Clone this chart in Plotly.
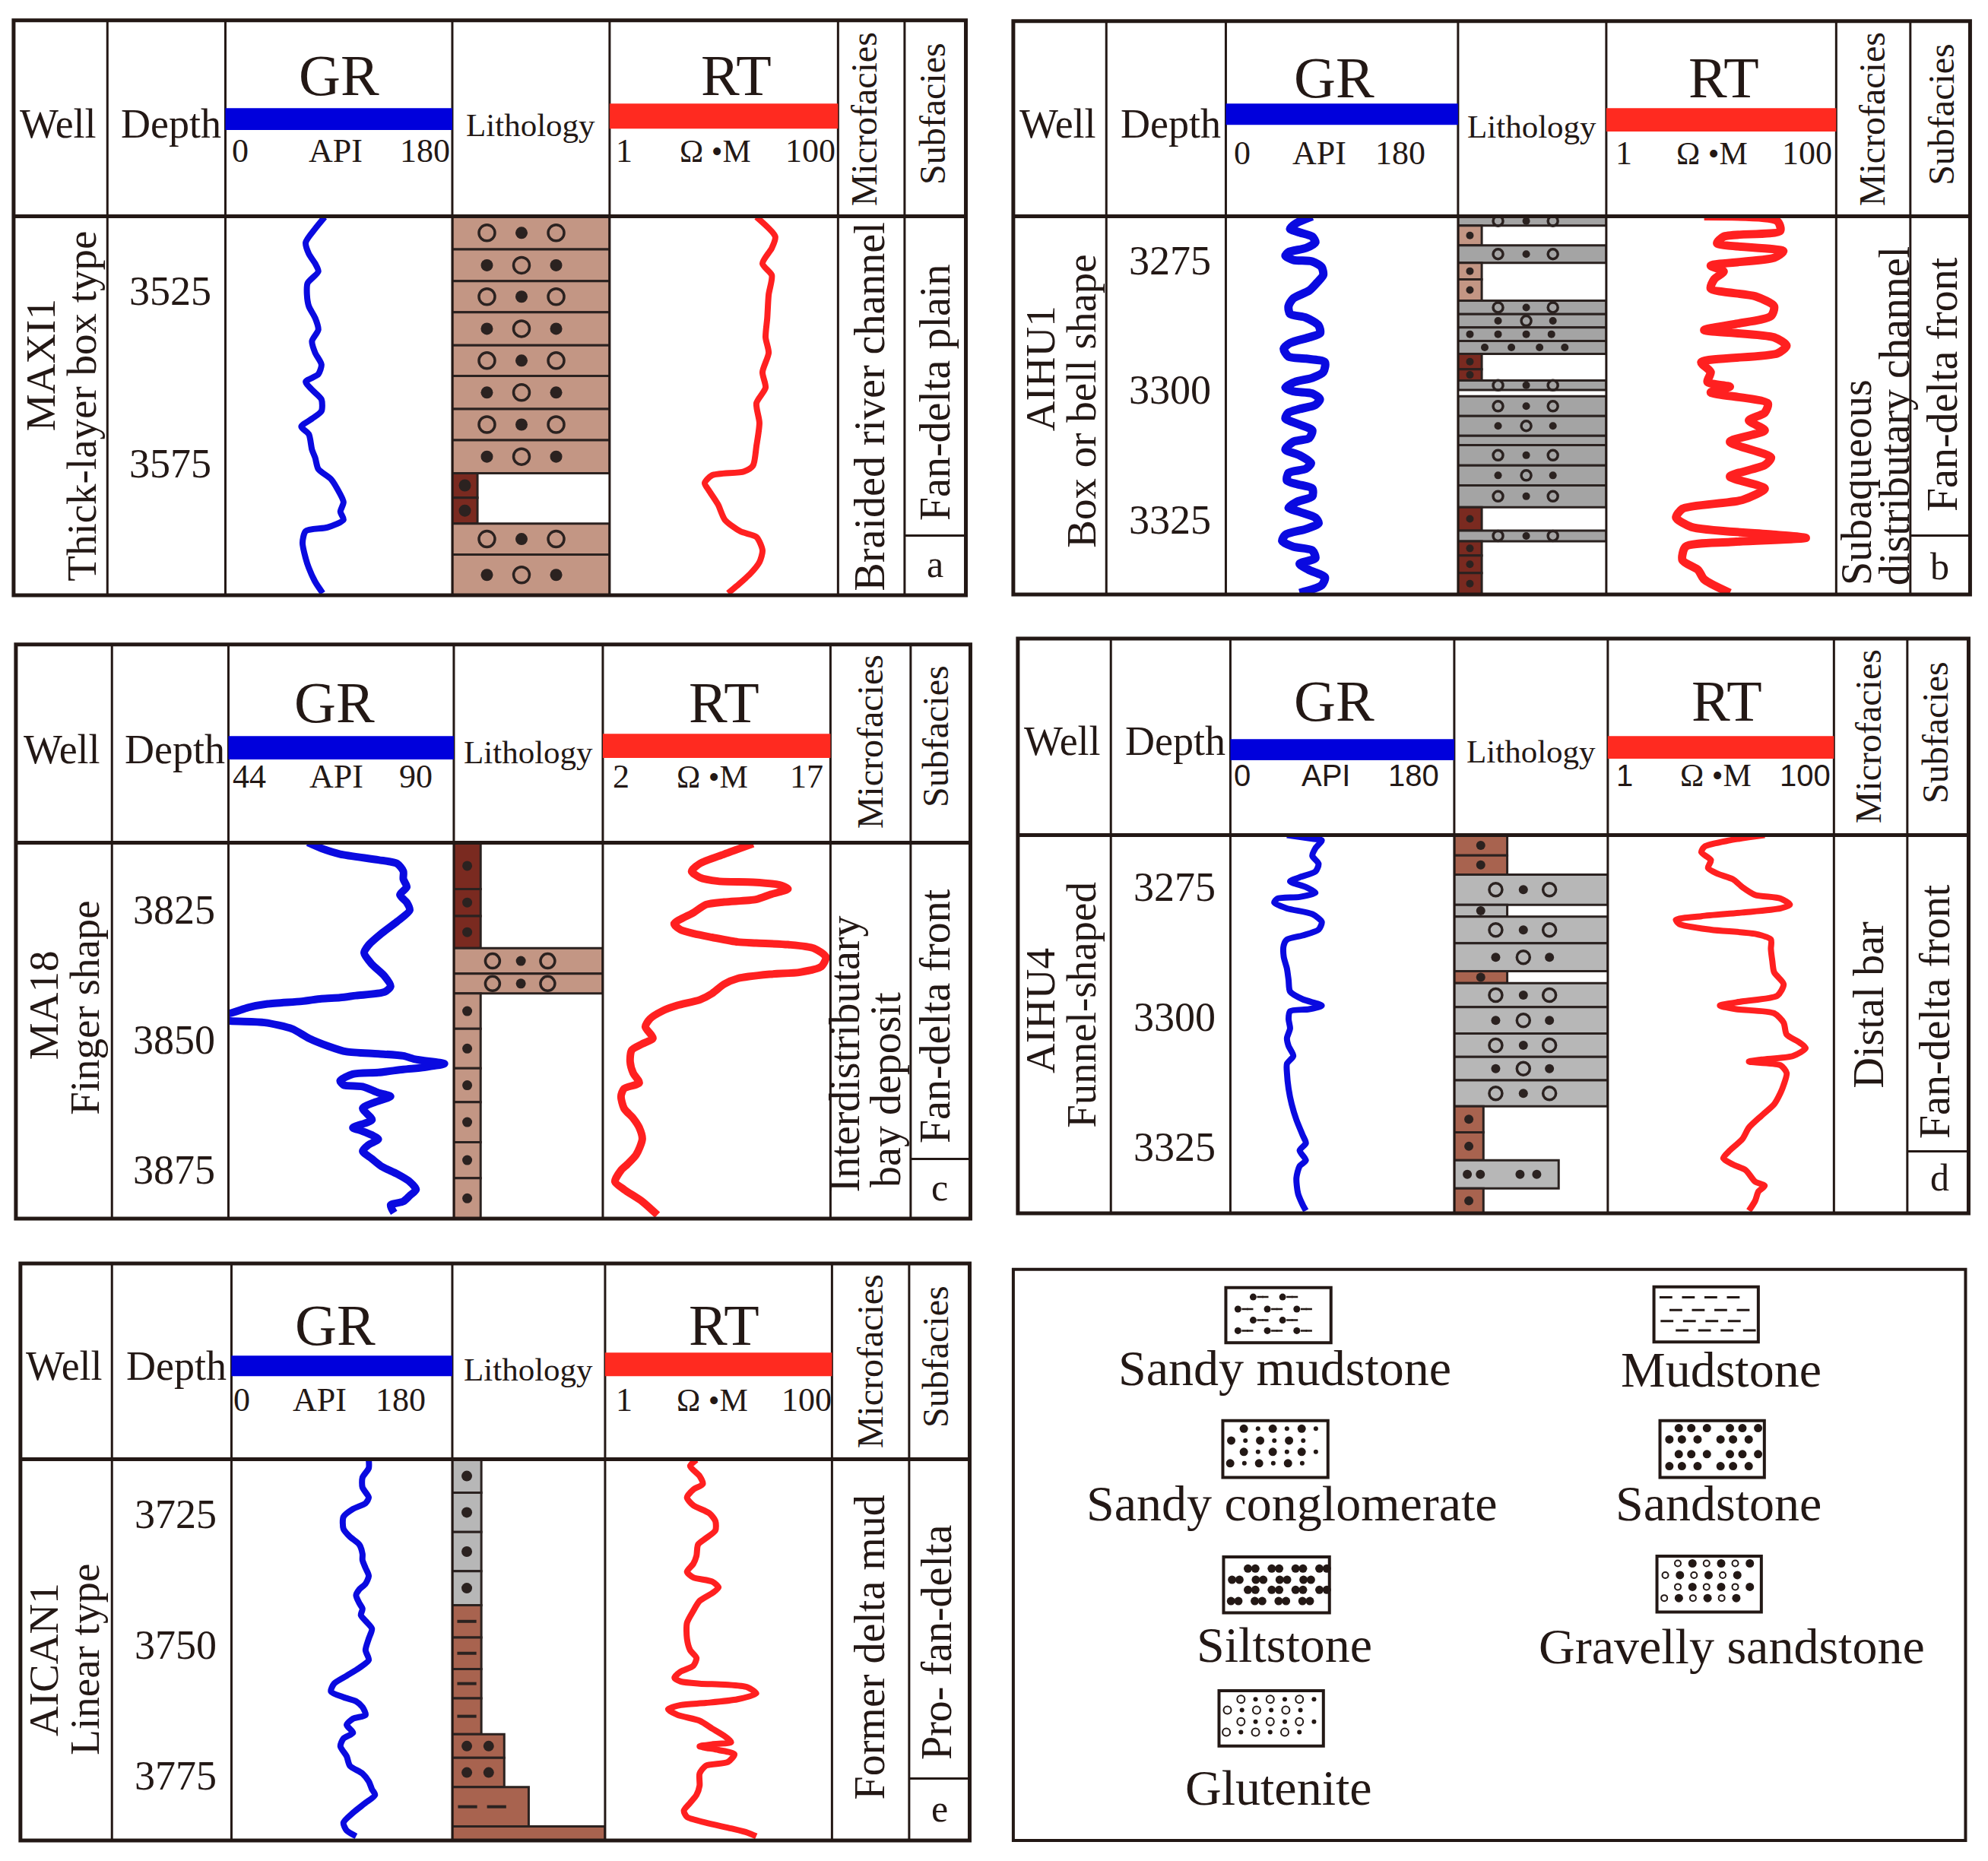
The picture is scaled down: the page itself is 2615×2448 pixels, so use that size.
import math
import plotly.graph_objects as go

W, H = 2615, 2448
FONT = "Liberation Serif"
SANS = "Liberation Sans"
INK = "#231815"
EDGE = "#2B2220"

# ============================== DATA ==============================
wells = ["MAXI1", "AIHU1", "MA18", "AIHU4", "AICAN1"]
log_shapes = ["Thick-layer box type", "Box or bell shape", "Finger shape", "Funnel-shaped", "Linear type"]
microfacies = [["Braided river channel"], ["Subaqueous", "distributary channel"],
               ["Interdistributary", "bay deposit"], ["Distal bar"], ["Former delta mud"]]
subfacies = ["Fan-delta plain", "Fan-delta front", "Fan-delta front", "Fan-delta front", "Pro- fan-delta"]
panel_tags = ["a", "b", "c", "d", "e"]

depth_top = [3503.3, 3266.5, 3812.0, 3265.0, 3714.5]
depth_bottom = [3613.2, 3339.3, 3884.3, 3337.8, 3787.4]
depth_ticks = [[3525, 3575], [3275, 3300, 3325], [3825, 3850, 3875], [3275, 3300, 3325], [3725, 3750, 3775]]
gr_scale = [[0, 180], [0, 180], [44, 90], [0, 180], [0, 180]]
rt_scale = [[1, 100], [1, 100], [2, 17], [1, 100], [1, 100]]
gr_unit = "API"
rt_unit = "\u03a9 \u2022M"

# ---- MAXI1 ----
gr_depth_a = [3503.55, 3506.9, 3510.9, 3514.2, 3517.0, 3519.3, 3522.7, 3526.0, 3529.4, 3532.8,
              3536.2, 3539.5, 3542.9, 3546.3, 3549.1, 3551.3, 3553.6, 3556.4, 3559.8, 3562.0,
              3564.3, 3566.5, 3571.0, 3573.3, 3576.6, 3579.5, 3582.3, 3586.2, 3589.0, 3591.3,
              3593.5, 3594.6, 3598.0, 3602.5, 3605.3, 3609.3, 3612.6]
gr_a = [78.7, 71.2, 63.7, 66.2, 71.2, 73.7, 65.2, 64.7, 66.2, 71.2,
        73.7, 68.7, 71.2, 76.2, 73.7, 63.7, 68.7, 76.2, 76.2, 68.7,
        60.2, 66.2, 68.7, 71.2, 73.7, 83.7, 88.7, 93.7, 91.2, 93.7,
        81.2, 63.7, 61.2, 63.7, 66.2, 71.2, 77.2]
rt_depth_a = [3503.5, 3509.2, 3512.5, 3517.0, 3520.4, 3526.0, 3532.8, 3538.4, 3542.9, 3548.5,
              3553.0, 3557.5, 3563.2, 3569.9, 3575.6, 3577.3, 3578.4, 3580.7, 3582.8, 3586.9,
              3591.3, 3594.7, 3596.3, 3600.2, 3603.6, 3607.0, 3610.4, 3612.6]
rt_a = [19.3, 28.2, 26.3, 21.8, 26.3, 24.7, 24.0, 23.2, 24.7, 21.8,
        23.2, 19.3, 20.5, 19.3, 18.0, 15.0, 7.9, 6.8, 7.4, 8.9,
        10.2, 14.0, 19.3, 21.8, 20.5, 17.0, 13.1, 10.9]
lith_top_a = [3503.3, 3512.9, 3522.1, 3531.1, 3540.7, 3549.6, 3559.2, 3568.2, 3577.8, 3584.9, 3592.4, 3601.4]
lith_bot_a = [3512.9, 3522.1, 3531.1, 3540.7, 3549.6, 3559.2, 3568.2, 3577.8, 3584.9, 3592.4, 3601.4, 3613.2]
lith_width_a = [1, 1, 1, 1, 1, 1, 1, 1, 0.16, 0.16, 1, 1]
lith_rock_a = ["tan"] * 8 + ["maroon", "maroon", "tan", "tan"]
lith_sym_a = ["o.o", ".o.", "o.o", ".o.", "o.o", ".o.", "o.o", ".o.", ".", ".", "o.o", ".o."]

# ---- AIHU1 ----
gr_depth_b = [3266.5, 3267.8, 3268.9, 3269.6, 3270.4, 3271.5, 3272.6, 3273.4, 3274.1, 3274.9,
              3275.2, 3276.3, 3277.8, 3279.3, 3280.8, 3282.3, 3283.8, 3285.3, 3286.0, 3287.5,
              3289.0, 3289.8, 3290.9, 3292.0, 3293.5, 3293.9, 3294.6, 3296.5, 3297.6, 3298.4,
              3299.5, 3300.2, 3300.6, 3301.7, 3302.8, 3303.6, 3304.3, 3305.4, 3306.6, 3307.7,
              3309.2, 3309.9, 3311.4, 3312.5, 3314.0, 3315.1, 3315.9, 3317.4, 3318.1, 3318.9,
              3320.4, 3321.5, 3322.6, 3323.4, 3324.5, 3325.6, 3326.7, 3327.8, 3329.0, 3330.1,
              3330.8, 3332.3, 3333.4, 3334.6, 3336.0, 3337.5, 3339.0]
gr_b = [67.0, 54.8, 49.8, 57.2, 67.0, 69.4, 62.1, 48.6, 46.2, 52.3,
        67.0, 74.3, 75.5, 70.6, 64.6, 52.3, 48.6, 49.8, 62.1, 71.9,
        73.1, 64.6, 49.8, 44.9, 48.6, 62.1, 76.8, 75.5, 67.0, 53.5,
        46.2, 52.3, 67.0, 72.9, 69.4, 57.2, 48.6, 46.2, 57.2, 67.0,
        64.6, 52.3, 46.2, 57.2, 66.0, 62.1, 48.6, 47.4, 56.0, 67.0,
        67.0, 54.8, 48.6, 57.2, 69.4, 71.9, 62.1, 46.2, 43.7, 52.3,
        67.0, 69.4, 57.2, 64.6, 76.8, 74.3, 57.2]
rt_depth_b = [3266.5, 3267.4, 3269.3, 3270.4, 3271.7, 3273.2, 3274.5, 3276.0, 3277.1, 3278.6,
              3280.4, 3281.9, 3283.8, 3285.7, 3287.2, 3288.4, 3289.8, 3291.4, 3292.9, 3294.6,
              3296.5, 3298.4, 3299.3, 3300.4, 3302.5, 3304.3, 3305.8, 3307.7, 3309.9, 3312.9,
              3314.4, 3316.6, 3318.9, 3321.1, 3322.8, 3324.5, 3326.3, 3327.8, 3328.4, 3329.2,
              3330.1, 3332.7, 3334.6, 3336.4, 3339.0]
rt_b = [7.1, 30.7, 32.6, 10.5, 9.2, 34.7, 28.8, 8.1, 10.5, 8.7,
        8.1, 19.8, 28.8, 27.1, 13.5, 7.1, 28.8, 37.0, 30.7, 6.7,
        8.1, 7.6, 11.9, 8.1, 25.4, 23.9, 17.4, 23.9, 11.9, 27.1,
        23.9, 11.9, 23.9, 15.3, 4.6, 4.05, 5.5, 30.0, 54.5, 12.0,
        4.9, 4.6, 6.3, 7.1, 11.9]
lith_top_b = [3266.5, 3268.3, 3272.1, 3275.45, 3278.65, 3282.75, 3285.35, 3287.9, 3290.5, 3293.0,
              3295.95, 3298.1, 3301.15, 3304.95, 3308.75, 3310.55, 3314.45, 3318.3, 3322.5, 3327.0,
              3329.05, 3331.8, 3335.15]
lith_bot_b = [3268.3, 3272.1, 3275.45, 3278.65, 3282.75, 3285.35, 3287.9, 3290.5, 3293.0, 3295.95,
              3298.1, 3299.95, 3304.95, 3308.75, 3310.55, 3314.45, 3318.3, 3322.5, 3327.0, 3329.05,
              3331.8, 3335.15, 3339.3]
lith_width_b = [1, 0.16, 1, 0.16, 0.16, 1, 1, 1, 1, 0.16,
                0.16, 1, 1, 1, 1, 1, 1, 1, 0.16, 1,
                0.16, 0.16, 0.16]
lith_rock_b = ["gray", "tan", "gray", "tan", "tan", "gray", "gray", "gray", "gray", "maroon",
               "maroon", "gray", "gray", "gray", "gray", "gray", "gray", "gray", "maroon", "gray",
               "maroon", "maroon", "maroon"]
lith_sym_b = ["o.o", ".", "o.o", ".", ".", "o.o", ".o.", "....", "....s", ".",
              ".", "o.o", "o.o", ".o.", "", "o.o", ".o.", "o.o", ".", "o.o",
              ".", ".", "."]

# ---- MA18 ----
gr_depth_c = [3811.97, 3813.1, 3814.2, 3815.3, 3816.0, 3817.5, 3819.0, 3820.5, 3822.0, 3823.5,
              3825.0, 3827.2, 3829.5, 3831.7, 3833.2, 3835.4, 3837.7, 3839.6, 3840.7, 3841.4,
              3841.8, 3842.0, 3842.5, 3843.0, 3843.7, 3844.8, 3845.5, 3846.3, 3846.6, 3847.8,
              3849.6, 3851.1, 3852.2, 3852.6, 3853.0, 3853.7, 3854.5, 3855.2, 3855.6, 3856.2,
              3856.5, 3857.8, 3858.6, 3858.9, 3860.1, 3860.8, 3861.9, 3863.1, 3865.3, 3866.8,
              3867.5, 3869.0, 3870.1, 3871.3, 3872.8, 3874.3, 3875.7, 3877.2, 3878.7, 3879.9,
              3881.0, 3881.7, 3883.2]
gr_c = [60.2, 63.0, 66.8, 74.6, 78.4, 79.7, 79.7, 80.4, 79.0, 80.4,
        81.0, 78.4, 75.2, 72.6, 71.7, 73.3, 75.9, 77.1, 75.9, 70.0,
        66.8, 63.0, 59.0, 52.0, 48.0, 44.3, 36.0, 44.3, 51.4, 57.0,
        60.4, 64.3, 68.1, 74.6, 79.7, 82.3, 88.1, 84.0, 79.7, 74.6,
        69.4, 66.8, 67.5, 71.4, 74.6, 77.1, 73.9, 71.4, 73.3, 69.4,
        71.4, 74.6, 72.6, 71.4, 73.3, 75.3, 78.4, 81.0, 82.3, 81.0,
        79.7, 77.1, 77.8]
rt_depth_c = [3812.2, 3814.2, 3816.0, 3817.5, 3818.7, 3819.4, 3819.6, 3820.1, 3820.9, 3822.0,
              3822.9, 3823.4, 3823.9, 3825.4, 3827.6, 3828.7, 3829.5, 3830.2, 3831.1, 3831.3,
              3831.6, 3832.3, 3834.0, 3835.8, 3836.9, 3837.3, 3838.1, 3839.2, 3841.0, 3842.2,
              3843.3, 3844.4, 3845.9, 3847.4, 3849.6, 3850.7, 3851.9, 3854.1, 3856.3, 3858.2,
              3859.3, 3860.8, 3863.1, 3865.0, 3866.8, 3869.0, 3872.0, 3873.9, 3875.0, 3877.2,
              3878.7, 3881.0, 3883.6]
rt_c = [11.9, 10.0, 8.4, 7.85, 8.4, 9.6, 11.9, 13.6, 14.2, 13.0,
        12.1, 10.0, 8.8, 8.0, 6.7, 7.1, 8.0, 9.2, 10.9, 12.1,
        14.2, 15.9, 16.7, 16.4, 15.0, 13.0, 10.9, 10.0, 9.2, 8.4,
        6.9, 5.9, 5.1, 4.8, 5.3, 4.6, 3.9, 3.8, 4.0, 4.4,
        3.4, 3.2, 3.4, 4.0, 4.4, 4.6, 4.2, 3.6, 3.2, 2.8,
        3.4, 4.6, 5.6]
lith_top_c = [3812.0, 3820.9, 3826.1, 3832.3, 3837.2, 3841.0, 3847.8, 3855.4, 3861.9, 3869.6, 3876.5]
lith_bot_c = [3820.9, 3826.1, 3832.3, 3837.2, 3841.0, 3847.8, 3855.4, 3861.9, 3869.6, 3876.5, 3884.3]
lith_width_c = [0.18, 0.18, 0.18, 1, 1, 0.18, 0.18, 0.18, 0.18, 0.18, 0.18]
lith_rock_c = ["maroon", "maroon", "maroon", "tan", "tan", "tan", "tan", "tan", "tan", "tan", "tan"]
lith_sym_c = [".", ".", ".", "o.o", "o.o", ".", ".", ".", ".", ".", "."]

# ---- AIHU4 ----
gr_depth_d = [3265.0, 3265.7, 3266.0, 3267.5, 3269.0, 3270.5, 3272.0, 3273.1, 3273.9, 3275.0,
              3276.1, 3276.9, 3277.2, 3278.0, 3279.1, 3280.2, 3281.7, 3283.2, 3284.3, 3285.1,
              3286.2, 3288.4, 3290.7, 3292.9, 3295.1, 3296.6, 3297.8, 3298.5, 3298.9, 3300.4,
              3302.2, 3304.1, 3305.6, 3307.5, 3309.0, 3310.8, 3313.8, 3316.8, 3319.8, 3322.8,
              3324.3, 3325.7, 3327.6, 3328.7, 3331.0, 3334.0, 3336.2, 3337.3]
gr_d = [45.5, 65.9, 73.5, 68.4, 65.9, 70.9, 68.4, 55.7, 48.0, 60.7,
        68.4, 55.7, 37.9, 35.3, 45.5, 65.9, 73.5, 70.9, 58.2, 45.5,
        42.9, 42.9, 45.5, 46.8, 48.0, 58.2, 73.5, 63.3, 48.0, 46.8,
        48.0, 45.5, 46.8, 50.6, 45.5, 45.5, 46.8, 49.3, 53.1, 58.2,
        60.7, 55.7, 60.7, 55.7, 53.1, 54.4, 58.2, 60.7]
rt_depth_d = [3265.0, 3266.0, 3267.2, 3268.3, 3269.8, 3271.3, 3272.4, 3273.5, 3275.0, 3276.5,
              3277.2, 3278.4, 3279.1, 3279.9, 3280.6, 3281.3, 3282.1, 3283.2, 3284.0, 3285.1,
              3286.9, 3289.2, 3291.4, 3293.7, 3295.9, 3297.0, 3297.8, 3298.5, 3299.3, 3301.1,
              3303.4, 3304.9, 3306.0, 3307.5, 3308.2, 3308.6, 3309.3, 3310.8, 3313.1, 3314.6,
              3316.8, 3319.0, 3321.3, 3323.5, 3325.7, 3327.2, 3328.4, 3329.5, 3331.7, 3332.5,
              3333.6, 3335.4, 3337.3]
rt_d = [24.4, 12.0, 7.18, 6.72, 8.17, 7.7, 9.29, 12.8, 15.5, 20.1,
        33.7, 40.8, 33.7, 15.5, 6.72, 4.0, 4.29, 8.17, 20.1, 27.7,
        27.7, 28.5, 29.6, 35.9, 31.6, 15.5, 9.8, 13.7, 29.6, 35.9,
        38.2, 49.5, 56.2, 43.5, 22.9, 17.7, 33.7, 38.2, 35.9, 33.7,
        29.6, 22.9, 17.7, 15.5, 12.0, 10.5, 12.8, 16.6, 20.1, 24.4,
        21.5, 20.1, 17.7]
lith_top_d = [3265.0, 3268.9, 3272.6, 3278.4, 3280.7, 3285.8, 3291.2, 3293.5, 3298.1, 3303.2,
              3307.7, 3312.2, 3317.2, 3322.2, 3327.6, 3333.0]
lith_bot_d = [3268.9, 3272.6, 3278.4, 3280.7, 3285.8, 3291.2, 3293.5, 3298.1, 3303.2, 3307.7,
              3312.2, 3317.2, 3322.2, 3327.6, 3333.0, 3337.8]
lith_width_d = [0.345, 0.345, 1, 0.345, 1, 1, 0.345, 1, 1, 1, 1, 1, 0.19, 0.19, 0.68, 0.19]
lith_rock_d = ["brown", "brown", "lightgray", "lightgray", "lightgray", "lightgray", "brown",
               "lightgray", "lightgray", "lightgray", "lightgray", "lightgray",
               "brown", "brown", "lightgray", "brown"]
lith_sym_d = [".", ".", "o.o", ".", "o.o", ".o.", ".", "o.o", ".o.", "o.o", ".o.", "o.o",
              ".", ".", ".. ..", "."]

# ---- AICAN1 ----
gr_depth_e = [3714.6, 3716.2, 3718.0, 3719.9, 3721.8, 3722.9, 3724.0, 3725.5, 3727.8, 3729.3,
              3730.8, 3732.6, 3733.8, 3735.3, 3736.8, 3738.3, 3739.4, 3740.5, 3742.0, 3743.1,
              3744.3, 3745.4, 3746.9, 3748.8, 3751.0, 3752.9, 3754.4, 3755.9, 3757.4, 3758.9,
              3760.0, 3760.8, 3761.9, 3763.4, 3764.1, 3765.3, 3766.8, 3767.9, 3769.4, 3771.3,
              3773.1, 3774.6, 3776.1, 3777.6, 3778.7, 3780.2, 3782.1, 3784.0, 3785.5, 3786.6]
gr_e = [111.9, 111.9, 106.8, 106.8, 111.9, 109.3, 99.1, 91.3, 91.3, 96.5,
        104.2, 106.8, 106.8, 109.3, 111.9, 109.3, 104.2, 101.6, 104.2, 106.8,
        105.5, 109.3, 114.5, 111.9, 109.3, 111.9, 104.2, 93.9, 83.7, 81.1,
        91.3, 101.6, 106.8, 109.3, 99.1, 93.9, 99.1, 91.3, 88.8, 93.9,
        96.5, 106.8, 111.9, 114.5, 117.0, 109.3, 99.1, 91.3, 93.9, 101.6]
rt_depth_e = [3714.6, 3715.8, 3717.7, 3719.2, 3720.3, 3721.8, 3723.3, 3724.8, 3726.3, 3728.1,
              3729.6, 3730.8, 3733.0, 3734.5, 3736.0, 3737.1, 3737.9, 3739.0, 3740.1, 3741.6,
              3743.5, 3745.8, 3748.8, 3751.0, 3752.5, 3754.0, 3755.1, 3756.3, 3757.0, 3757.4,
              3757.6, 3758.1, 3759.3, 3760.4, 3761.1, 3761.5, 3762.3, 3763.4, 3764.5, 3766.0,
              3767.5, 3768.6, 3769.0, 3769.4, 3770.1, 3770.9, 3772.4, 3773.1, 3774.6, 3776.9,
              3778.7, 3780.2, 3781.7, 3782.9, 3784.0, 3785.1, 3785.9, 3786.6]
rt_e = [6.39, 5.62, 6.81, 7.27, 5.99, 5.27, 5.99, 8.27, 9.38, 9.38,
        7.74, 6.6, 6.39, 5.99, 5.27, 5.99, 8.80, 10.0, 8.80, 6.81,
        5.99, 5.27, 5.27, 5.62, 6.39, 5.99, 4.64, 4.09, 4.64, 6.81,
        11.4, 18.0, 21.5, 14.7, 7.74, 4.64, 3.59, 4.36, 6.81, 8.80,
        11.4, 12.9, 8.80, 6.81, 10.0, 13.8, 12.1, 7.74, 6.81, 6.81,
        6.39, 5.62, 4.95, 5.27, 7.74, 12.9, 18.0, 21.5]
lith_top_e = [3714.5, 3720.9, 3728.4, 3735.9, 3742.4, 3748.6, 3754.6, 3760.2, 3767.1, 3771.6, 3777.2, 3784.7]
lith_bot_e = [3720.9, 3728.4, 3735.9, 3742.4, 3748.6, 3754.6, 3760.2, 3767.1, 3771.6, 3777.2, 3784.7, 3787.4]
lith_width_e = [0.19, 0.19, 0.19, 0.19, 0.19, 0.19, 0.19, 0.19, 0.34, 0.34, 0.50, 1.0]
lith_rock_e = ["lightgray"] * 4 + ["brown"] * 8
lith_sym_e = [".", ".", ".", ".", "-", "-", "-", "-", "..", "..", "--", ""]

legend_names = ["Sandy mudstone", "Mudstone", "Sandy conglomerate", "Sandstone",
                "Siltstone", "Gravelly sandstone", "Glutenite"]

GR = [(gr_depth_a, gr_a), (gr_depth_b, gr_b), (gr_depth_c, gr_c), (gr_depth_d, gr_d), (gr_depth_e, gr_e)]
RT = [(rt_depth_a, rt_a), (rt_depth_b, rt_b), (rt_depth_c, rt_c), (rt_depth_d, rt_d), (rt_depth_e, rt_e)]
LITH = [
    (lith_top_a, lith_bot_a, lith_width_a, lith_rock_a, lith_sym_a),
    (lith_top_b, lith_bot_b, lith_width_b, lith_rock_b, lith_sym_b),
    (lith_top_c, lith_bot_c, lith_width_c, lith_rock_c, lith_sym_c),
    (lith_top_d, lith_bot_d, lith_width_d, lith_rock_d, lith_sym_d),
    (lith_top_e, lith_bot_e, lith_width_e, lith_rock_e, lith_sym_e),
]

# ============================== STYLE / LAYOUT ==============================
ROCK_COLORS = {"tan": "#C39684", "maroon": "#7A2A20", "gray": "#A4A4A4",
               "lightgray": "#B7B7B7", "brown": "#A8634F"}
GR_COLOR = "#0A0AE0"
RT_COLOR = "#FF2020"
BAR_BLUE = "#0000DC"
BAR_RED = "#FF2A20"
K = 0.9949  # measurement calibration of the panel geometry below


def calibrate(g, ox, oy):
    fx = lambda v: ox + (v - ox) * K
    fy = lambda v: oy + (v - oy) * K
    g = dict(g)
    g["cols"] = [fx(v) for v in g["cols"]]
    for key in ("top", "head", "bot", "tag", "title_y", "scale_y", "label_y", "lith_y"):
        g[key] = fy(g[key])
    for key in ("title_x", "gr_lab_x", "rt_lab_x", "well_x"):
        g[key] = tuple(fx(v) for v in g[key])
    for key in ("gr_bar", "rt_bar", "well_y"):
        g[key] = tuple(fy(v) for v in g[key])
    for key in ("sub_xy", "tag_xy", "head_micro", "head_sub"):
        g[key] = (fx(g[key][0]), fy(g[key][1]))
    g["micro_xy"] = [(fx(a), fy(b)) for a, b in g["micro_xy"]]
    return g


PANELS = [
    calibrate(dict(cols=[18, 142, 298, 598, 806, 1108, 1196, 1277], top=27, head=286, bot=787, tag=708,
         title_y=100, title_x=(448, 973), gr_bar=(143, 172), rt_bar=(137, 170), scale_y=200,
         gr_lab_x=(318, 444, 562), rt_lab_x=(825, 946, 1071), label_y=164, lith_y=165,
         well_x=(54, 108), well_y=(483, 537), micro_xy=[(1150, 538)], sub_xy=(1237, 519),
         tag_xy=(1236, 746), head_micro=(1142, 158), head_sub=(1233, 150),
         sym_x=(0.22, 0.44, 0.66), curve_w=8, ring=21, dot=16, sans=False), 0, 0),
    calibrate(dict(cols=[1333, 1456, 1614, 1921, 2117, 2421, 2519, 2598], top=28, head=286, bot=786, tag=708,
         title_y=103, title_x=(1757, 2272), gr_bar=(137, 165), rt_bar=(143, 174), scale_y=203,
         gr_lab_x=(1636, 1738, 1845), rt_lab_x=(2140, 2257, 2382), label_y=164, lith_y=167,
         well_x=(1369, 1423), well_y=(487, 530), micro_xy=[(2448, 638), (2498, 550)],
         sub_xy=(2562, 508), tag_xy=(2558, 749), head_micro=(2468, 158), head_sub=(2560, 151),
         sym_x=(0.27, 0.46, 0.64), curve_w=11, ring=13, dot=10, sans=False), 1310, 0),
    calibrate(dict(cols=[21, 148, 302, 600, 797, 1098, 1204, 1283], top=848, head=1110, bot=1607, tag=1528,
         title_y=925, title_x=(442, 957), gr_bar=(969, 1000), rt_bar=(966, 998), scale_y=1023,
         gr_lab_x=(330, 445, 550), rt_lab_x=(821, 942, 1066), label_y=987, lith_y=990,
         well_x=(58, 112), well_y=(1325, 1328), micro_xy=[(1117, 1389), (1171, 1437)],
         sub_xy=(1237, 1339), tag_xy=(1242, 1566), head_micro=(1150, 977), head_sub=(1237, 969),
         sym_x=(0.26, 0.45, 0.63), curve_w=10, ring=19, dot=13, sans=False), 0, 820),
    calibrate(dict(cols=[1339, 1462, 1620, 1916, 2119, 2418, 2515, 2596], top=840, head=1100, bot=1600, tag=1518,
         title_y=923, title_x=(1757, 2276), gr_bar=(973, 1001), rt_bar=(969, 999), scale_y=1021,
         gr_lab_x=(1636, 1746, 1862), rt_lab_x=(2141, 2262, 2380), label_y=976, lith_y=989,
         well_x=(1369, 1423), well_y=(1332, 1324), micro_xy=[(2464, 1324)],
         sub_xy=(2552, 1333), tag_xy=(2558, 1553), head_micro=(2463, 970), head_sub=(2552, 964),
         sym_x=(0.27, 0.45, 0.62), curve_w=8, ring=17, dot=12, sans=True), 1310, 820),
    calibrate(dict(cols=[27, 148, 306, 598, 800, 1100, 1202, 1282], top=1662, head=1921, bot=2425, tag=2343,
         title_y=1744, title_x=(443, 957), gr_bar=(1784, 1811), rt_bar=(1780, 1811), scale_y=1843,
         gr_lab_x=(320, 423, 530), rt_lab_x=(825, 942, 1066), label_y=1798, lith_y=1802,
         well_x=(58, 112), well_y=(2186, 2185), micro_xy=[(1150, 2170)],
         sub_xy=(1239, 2163), tag_xy=(1242, 2383), head_micro=(1150, 1792), head_sub=(1237, 1785),
         sym_x=(0.25, 0.45, 0.65), curve_w=8, ring=14, dot=14, sans=False), 0, 1640),
]

LEG_O = (1310, 1640)


def lcal(x, y):
    return LEG_O[0] + (x - LEG_O[0]) * K, LEG_O[1] + (y - LEG_O[1]) * K


LEGEND_BOX = (1333, 1670, 2592, 2425)
SWATCHES = [  # box in px, pattern generator spec
    dict(box=(1614, 1694, 1753, 1767), label=(1692, 1800), rows=[0.17, 0.39, 0.59, 0.78],
         starts=[0.26, 0.115, 0.26, 0.115], counts=[2, 3, 2, 3], step=0.28,
         unit=[(0, "mdot"), (0.067, "sdash"), (0.115, "sdash")]),
    dict(box=(2180, 1693, 2318, 1766), label=(2269, 1802), rows=[0.19, 0.42, 0.62, 0.79],
         starts=[0.115, 0.21, 0.125, 0.27], counts=[4, 4, 4, 4], step=0.215, unit=[(0, "dash")]),
    dict(box=(1610, 1870, 1749, 1945), label=(1701, 1979), rows=[0.14, 0.35, 0.55, 0.75],
         starts=[0.2, 0.08, 0.2, 0.07], counts=[3, 3, 3, 3], step=0.275,
         unit=[(0, "bigdot"), (0.135, "smalldot")]),
    dict(box=(2188, 1870, 2326, 1945), label=(2265, 1979), rows=[0.13, 0.33, 0.59, 0.80],
         starts=[0.18, 0.09, 0.18, 0.09], counts=[2, 2, 2, 2], step=0.49,
         unit=[(0, "bigdot"), (0.12, "bigdot"), (0.27, "bigdot")]),
    dict(box=(1611, 2050, 1751, 2124), label=(1691, 2166), rows=[0.21, 0.41, 0.59, 0.79],
         starts=[0.23, 0.08, 0.23, 0.07], counts=[4, 4, 4, 4], step=0.225,
         unit=[(0, "bigdot"), (0.07, "bigdot")]),
    dict(box=(2184, 2049, 2322, 2123), label=(2283, 2168), rows=[0.13, 0.34, 0.55, 0.75],
         starts=[0.2, 0.08, 0.2, 0.07], counts=[3, 3, 3, 3], step=0.275,
         unit=[(0, "ring_s"), (0.14, "bigdot")]),
    dict(box=(1605, 2227, 1743, 2300), label=(1684, 2355), rows=[0.155, 0.35, 0.56, 0.75],
         starts=[0.21, 0.08, 0.21, 0.07], counts=[3, 3, 3, 3], step=0.28,
         unit=[(0, "ring"), (0.14, "smalldot")]),
]
KIND_STYLE = {
    "bigdot": dict(symbol="circle", size=11, lw=0),
    "mdot": dict(symbol="circle", size=9, lw=0),
    "smalldot": dict(symbol="circle", size=6, lw=0),
    "sdash": dict(symbol="line-ew", size=6, lw=2.5),
    "dash": dict(symbol="line-ew", size=12, lw=3),
    "ring_s": dict(symbol="circle-open", size=8, lw=2),
    "ring": dict(symbol="circle-open", size=10, lw=2),
}


def px(x):
    return x / W


def py(y):
    return 1 - y / H


fig = go.Figure()
axes = {}
shapes = []
annotations = []
counter = [0]


def new_axes(xdom, ydom, xrange, yrange, xtype="linear"):
    counter[0] += 1
    i = counter[0]
    sx = "" if i == 1 else str(i)
    common = dict(showgrid=False, zeroline=False, showticklabels=False, showline=False,
                  ticks="", fixedrange=True)
    axes["xaxis" + sx] = dict(domain=xdom, range=xrange, type=xtype, anchor="y" + sx, **common)
    axes["yaxis" + sx] = dict(domain=ydom, range=yrange, anchor="x" + sx, **common)
    return "x" + sx, "y" + sx


def hline(x0, x1, y, w):
    shapes.append(dict(type="line", xref="paper", yref="paper", x0=px(x0), x1=px(x1),
                       y0=py(y), y1=py(y), line=dict(color=INK, width=w)))


def vline(x, y0, y1, w):
    shapes.append(dict(type="line", xref="paper", yref="paper", x0=px(x), x1=px(x),
                       y0=py(y0), y1=py(y1), line=dict(color=INK, width=w)))


def box(x0, y0, x1, y1, w, fill=None, color=INK):
    d = dict(type="rect", xref="paper", yref="paper", x0=px(x0), x1=px(x1),
             y0=py(y1), y1=py(y0), line=dict(color=color, width=w))
    if fill:
        d["fillcolor"] = fill
    shapes.append(d)


def text(s, x, y, size, angle=0, family=FONT, xanchor="center", yref="paper", ydata=None):
    annotations.append(dict(text=s, x=px(x), xref="paper",
                            y=(ydata if ydata is not None else py(y)), yref=yref,
                            showarrow=False, textangle=angle, xanchor=xanchor, yanchor="middle",
                            font=dict(family=family, size=size, color=INK)))


def add_markers(xa, ya, xs, ys, kind, size, lw=4):
    if not xs:
        return
    if kind == "ring":
        m = dict(symbol="circle-open", size=size, color=EDGE, line=dict(color=EDGE, width=lw))
    elif kind == "dash":
        m = dict(symbol="line-ew", size=size, color=EDGE, line=dict(color=EDGE, width=lw))
    else:
        m = dict(symbol="circle", size=size, color=EDGE, line=dict(width=0))
    fig.add_trace(go.Scatter(x=xs, y=ys, mode="markers", marker=m, xaxis=xa, yaxis=ya,
                             hoverinfo="skip", cliponaxis=False))


for p in range(5):
    g = PANELS[p]
    c = g["cols"]
    ydom = [py(g["bot"]), py(g["head"])]
    yr = [depth_bottom[p], depth_top[p]]
    gx, gy = new_axes([px(c[2]), px(c[3])], ydom, list(gr_scale[p]), yr)
    lx, ly = new_axes([px(c[3]), px(c[4])], ydom, [0, 1], yr)
    rmin, rmax = rt_scale[p]
    rt_log = rmax / rmin >= 50
    rrange = [math.log10(rmin), math.log10(rmax)] if rt_log else [rmin, rmax]
    rx, ry = new_axes([px(c[4]), px(c[5])], ydom, rrange, yr, "log" if rt_log else "linear")

    # lithology blocks
    tops, bots, widths, rocks, syms = LITH[p]
    mids = [(t + b) / 2 for t, b in zip(tops, bots)]
    thick = [b - t for t, b in zip(tops, bots)]
    fig.add_trace(go.Bar(x=widths, y=mids, base=0, width=thick, orientation="h",
                         marker=dict(color=[ROCK_COLORS[r] for r in rocks],
                                     line=dict(color=EDGE, width=3)),
                         xaxis=lx, yaxis=ly, hoverinfo="skip"))
    s1, s2, s3 = g["sym_x"]
    layouts = {
        "o.o": [(s1, "ring"), (s2, "dot"), (s3, "ring")],
        ".o.": [(s1, "dot"), (s2, "ring"), (s3, "dot")],
        ".": [(0.5, "dot")],
        "-": [(0.5, "dash")],
        "..": [(0.28, "dot"), (0.70, "dot")],
        "--": [(0.2, "dash"), (0.58, "dash")],
        "....": [(0.08, "dot"), (0.27, "dot"), (0.46, "dot"), (0.63, "dot")],
        "....s": [(0.18, "dot"), (0.36, "dot"), (0.55, "dot"), (0.72, "dot")],
        ".. ..": [(0.125, "dot"), (0.25, "dot"), (0.63, "dot"), (0.79, "dot")],
        "": [],
    }
    pts = {"ring": ([], []), "dot": ([], []), "dash": ([], [])}
    for m, wd, code in zip(mids, widths, syms):
        rel_full = code in ("o.o", ".o.", "....", "....s")
        for rx_, kind in layouts[code]:
            xv = rx_ if rel_full else rx_ * wd
            pts[kind][0].append(xv)
            pts[kind][1].append(m)
    add_markers(lx, ly, pts["ring"][0], pts["ring"][1], "ring", g["ring"], 3.5)
    add_markers(lx, ly, pts["dot"][0], pts["dot"][1], "dot", g["dot"])
    add_markers(lx, ly, pts["dash"][0], pts["dash"][1], "dash", 18, 4)

    # log curves
    gd, gv = GR[p]
    fig.add_trace(go.Scatter(x=gv, y=gd, mode="lines", xaxis=gx, yaxis=gy, hoverinfo="skip",
                             line=dict(color=GR_COLOR, width=g["curve_w"], shape="spline", smoothing=0.7)))
    rd, rv = RT[p]
    fig.add_trace(go.Scatter(x=rv, y=rd, mode="lines", xaxis=rx, yaxis=ry, hoverinfo="skip",
                             line=dict(color=RT_COLOR, width=g["curve_w"], shape="spline", smoothing=0.7)))

    # table grid
    box(c[0], g["top"], c[7], g["bot"], 5)
    for k in range(1, 7):
        vline(c[k], g["top"], g["bot"], 3)
    hline(c[0], c[7], g["head"], 5)
    hline(c[6], c[7], g["tag"], 3)

    # header
    box(c[2], g["gr_bar"][0], c[3], g["gr_bar"][1], 0, fill=BAR_BLUE, color=BAR_BLUE)
    box(c[4], g["rt_bar"][0], c[5], g["rt_bar"][1], 0, fill=BAR_RED, color=BAR_RED)
    text("GR", g["title_x"][0], g["title_y"], 76)
    text("RT", g["title_x"][1], g["title_y"], 76)
    text("Well", (c[0] + c[1]) / 2 - 3, g["label_y"], 54)
    text("Depth", (c[1] + c[2]) / 2 + 6, g["label_y"], 54)
    text("Lithology", (c[3] + c[4]) / 2, g["lith_y"], 43)
    nf = SANS if g["sans"] else FONT
    ns = 40 if g["sans"] else 44
    lx0, lx1, lx2 = g["gr_lab_x"]
    text(str(gr_scale[p][0]), lx0, g["scale_y"], ns, family=nf)
    text(gr_unit, lx1, g["scale_y"], ns, family=nf)
    text(str(gr_scale[p][1]), lx2, g["scale_y"], ns, family=nf)
    rx0, rx1, rx2 = g["rt_lab_x"]
    text(str(rt_scale[p][0]), rx0, g["scale_y"], ns, family=nf)
    text(rt_unit, rx1, g["scale_y"], 42)
    text(str(rt_scale[p][1]), rx2, g["scale_y"], ns, family=nf)
    text("Microfacies", g["head_micro"][0], g["head_micro"][1], 48, angle=-90)
    text("Subfacies", g["head_sub"][0], g["head_sub"][1], 48, angle=-90)

    # body texts
    text(wells[p], g["well_x"][0], g["well_y"][0], 55, angle=-90)
    text(log_shapes[p], g["well_x"][1], g["well_y"][1], 55, angle=-90)
    for line_txt, (mx, my) in zip(microfacies[p], g["micro_xy"]):
        text(line_txt, mx, my, 56, angle=-90)
    text(subfacies[p], g["sub_xy"][0], g["sub_xy"][1], 56, angle=-90)
    text(panel_tags[p], g["tag_xy"][0], g["tag_xy"][1], 50)
    dx = (c[1] + c[2]) / 2 + 5
    for t in depth_ticks[p]:
        text(str(t), dx, 0, 54, yref=gy, ydata=t)

# ---------------- lithology legend ----------------
L0, T0 = lcal(*LEGEND_BOX[:2])
L1, T1 = lcal(*LEGEND_BOX[2:])
box(L0, T0, L1, T1, 4)
lgx, lgy = new_axes([px(L0), px(L1)], [py(T1), py(T0)], [L0, L1], [T1, T0])
kind_pts = {k: ([], []) for k in KIND_STYLE}
for name, sw in zip(legend_names, SWATCHES):
    bx0, by0 = lcal(*sw["box"][:2])
    bx1, by1 = lcal(*sw["box"][2:])
    box(bx0, by0, bx1, by1, 4)
    bw, bh = bx1 - bx0, by1 - by0
    for ry_, st, n in zip(sw["rows"], sw["starts"], sw["counts"]):
        for k in range(n):
            for off, kind in sw["unit"]:
                kind_pts[kind][0].append(bx0 + (st + k * sw["step"] + off) * bw)
                kind_pts[kind][1].append(by0 + ry_ * bh)
    tx, ty = lcal(*sw["label"])
    text(name, tx, ty, 66)
for kind, (xs, ys) in kind_pts.items():
    if not xs:
        continue
    st = KIND_STYLE[kind]
    fig.add_trace(go.Scatter(x=xs, y=ys, mode="markers", xaxis=lgx, yaxis=lgy, hoverinfo="skip",
                             marker=dict(symbol=st["symbol"], size=st["size"], color=INK,
                                         line=dict(color=INK, width=st["lw"]))))

fig.update_layout(width=W, height=H, margin=dict(l=0, r=0, t=0, b=0, pad=0),
                  paper_bgcolor="white", plot_bgcolor="rgba(0,0,0,0)", showlegend=False,
                  shapes=shapes, annotations=annotations, bargap=0, **axes)

fig.write_html("out.html", config={"displayModeBar": False, "staticPlot": True},
               post_script="document.body.style.margin='0px';document.body.style.overflow='hidden';")
